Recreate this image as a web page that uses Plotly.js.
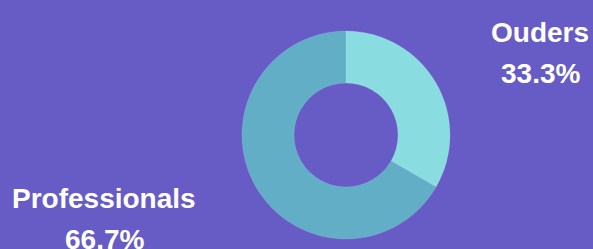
<!DOCTYPE html>
<html>
<head>
<meta charset="utf-8">
<script src="https://cdn.plot.ly/plotly-3.0.1.min.js"></script>
<style>
  html, body { margin: 0; padding: 0; background: #675BC5; }
  #chart { width: 593px; height: 249px; }
</style>
</head>
<body>
<div id="chart"></div>
<script>
const labels = ["Ouders", "Professionals"];
const values = [1, 2];
const colors = ["#89DCDF", "#62AEC6"];

const W = 593, H = 249;
const total = values.reduce((a, b) => a + b, 0);
const pct = values.map(v => (100 * v / total).toFixed(1) + "%");

// label anchor positions in pixels (layout only)
const labelPos = [
  { x: 540, yName: 32, yPct: 74 },
  { x: 104, yName: 198, yPct: 239 }
];

const font = { family: "Liberation Sans, Arial, sans-serif", size: 28, color: "#ffffff", weight: 700 };

const annotations = [];
labels.forEach((lab, i) => {
  const p = labelPos[i];
  annotations.push({
    text: "<b>" + lab + "</b>", x: p.x / W, y: 1 - p.yName / H, xref: "paper", yref: "paper",
    xanchor: "center", yanchor: "middle", showarrow: false, font: font
  });
  annotations.push({
    text: "<b>" + pct[i] + "</b>", x: p.x / W, y: 1 - p.yPct / H, xref: "paper", yref: "paper",
    xanchor: "center", yanchor: "middle", showarrow: false, font: font
  });
});

const cx = 346, cy = 135, r = 104;
const data = [{
  type: "pie",
  labels: labels,
  values: values,
  hole: 0.5,
  sort: false,
  direction: "clockwise",
  rotation: 0,
  textinfo: "none",
  hoverinfo: "label+percent",
  marker: { colors: colors, line: { color: "rgba(255,255,255,0.12)", width: 1 } },
  domain: { x: [(cx - r) / W, (cx + r) / W], y: [(H - cy - r) / H, (H - cy + r) / H] },
  showlegend: false
}];

const layout = {
  width: W, height: H,
  margin: { l: 0, r: 0, t: 0, b: 0 },
  paper_bgcolor: "#675BC5",
  plot_bgcolor: "#675BC5",
  showlegend: false,
  annotations: annotations
};

Plotly.newPlot("chart", data, layout, { displayModeBar: false, staticPlot: true });
</script>
</body>
</html>
